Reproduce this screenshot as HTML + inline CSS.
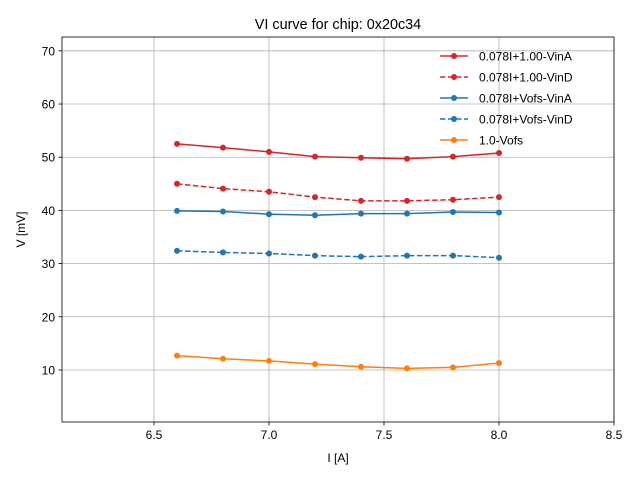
<!DOCTYPE html>
<html><head><meta charset="utf-8"><style>
body{margin:0;background:#fff}
svg{display:block;font-family:"Liberation Sans","DejaVu Sans",sans-serif}
</style></head><body>
<svg id="chart" width="640" height="480"></svg>
<script>
const xVals=[6.6,6.8,7.0,7.2,7.4,7.6,7.8,8.0];
const seriesNames=["0.078I+1.00-VinA","0.078I+1.00-VinD","0.078I+Vofs-VinA","0.078I+Vofs-VinD","1.0-Vofs"];
const redSolid=[52.5,51.8,51.0,50.1,49.9,49.7,50.1,50.8];
const redDashed=[45.0,44.1,43.5,42.5,41.8,41.8,42.0,42.5];
const blueSolid=[39.9,39.8,39.3,39.1,39.4,39.4,39.7,39.6];
const blueDashed=[32.4,32.1,31.9,31.5,31.3,31.5,31.5,31.1];
const orangeSolid=[12.7,12.1,11.7,11.1,10.6,10.3,10.5,11.3];
const xTicks=[6.5,7.0,7.5,8.0,8.5];
const yTicks=[10,20,30,40,50,60,70];

const NS="http://www.w3.org/2000/svg";
const svg=document.getElementById('chart');
const L=62,R=614,T=37,B=422;
const xMin=6.1,xMax=8.5,yMin=0.22,yMax=72.6;
const sx=v=>L+(v-xMin)/(xMax-xMin)*(R-L);
const sy=v=>B-(v-yMin)/(yMax-yMin)*(B-T);
function mk(tag,attrs,parent){const e=document.createElementNS(NS,tag);for(const k in attrs)e.setAttribute(k,attrs[k]);(parent||svg).appendChild(e);return e;}

const grid=mk('g',{});


xTicks.forEach(t=>{
  const x=sx(t);
  mk('line',{x1:x,x2:x,y1:T,y2:B,stroke:'#b0b0b0','stroke-width':0.8},grid);
  mk('line',{x1:x,x2:x,y1:B,y2:B+3.5,stroke:'#000','stroke-width':0.8});
  const tx=mk('text',{x:x,y:B+17,'text-anchor':'middle','font-size':12,fill:'#000'});
  tx.textContent=t.toFixed(1);
  
  
});
yTicks.forEach(t=>{
  const y=sy(t);
  mk('line',{x1:L,x2:R,y1:y,y2:y,stroke:'#b0b0b0','stroke-width':0.8},grid);
  mk('line',{x1:L-3.5,x2:L,y1:y,y2:y,stroke:'#000','stroke-width':0.8});
  const tx=mk('text',{x:L-7,y:y+4.5,'text-anchor':'end','font-size':12,fill:'#000'});
  tx.textContent=t;
  
  
});
const frame=mk('rect',{x:L,y:T,width:R-L,height:B-T,fill:'none',stroke:'#000','stroke-width':0.8});



const series=[
 {d:redSolid,c:'#d62728',dash:''},
 {d:redDashed,c:'#d62728',dash:'5.5,2.5'},
 {d:blueSolid,c:'#1f77b4',dash:''},
 {d:blueDashed,c:'#1f77b4',dash:'5.5,2.5'},
 {d:orangeSolid,c:'#ff7f0e',dash:''}
];
series.forEach((s,i)=>{
  const g=mk('g',{});
  
  
  const pts=s.d.map((v,j)=>sx(xVals[j])+','+sy(v)).join(' ');
  mk('polyline',{points:pts,fill:'none',stroke:s.c,'stroke-width':1.5,'stroke-dasharray':s.dash},g);
  s.d.forEach((v,j)=>{
    const c=mk('circle',{cx:sx(xVals[j]),cy:sy(v),r:3,fill:s.c},g);
    
    
  });
});

const leg=mk('g',{});


series.forEach((s,i)=>{
  const y=56+i*21;
  mk('line',{x1:440,x2:468,y1:y,y2:y,stroke:s.c,'stroke-width':1.5,'stroke-dasharray':s.dash},leg);
  mk('circle',{cx:454,cy:y,r:3,fill:s.c},leg);
  const t=mk('text',{x:479,y:y+4.5,'font-size':12,fill:'#000'},leg);
  t.textContent=seriesNames[i];
  
  
});

const title=mk('text',{x:(L+R)/2,y:29,'text-anchor':'middle','font-size':14.4,fill:'#000'});
title.textContent='VI curve for chip: 0x20c34';


const xl=mk('text',{x:(L+R)/2,y:462,'text-anchor':'middle','font-size':12,fill:'#000'});
xl.textContent='I [A]';


const yl=mk('text',{x:25,y:(T+B)/2,'text-anchor':'middle','font-size':12,fill:'#000',transform:'rotate(-90 25 '+((T+B)/2)+')'});
yl.textContent='V [mV]';


</script>
</body></html>
